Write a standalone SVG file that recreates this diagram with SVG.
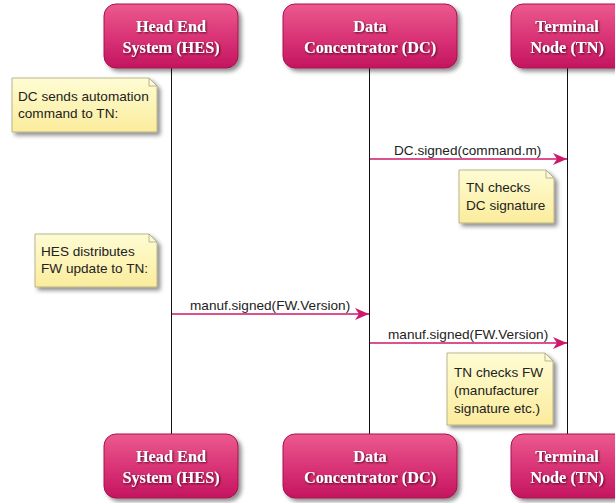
<svg xmlns="http://www.w3.org/2000/svg" width="615" height="503" viewBox="0 0 615 503">
  <defs>
    <linearGradient id="boxFill" x1="0" y1="0" x2="0" y2="1">
      <stop offset="0" stop-color="#ec5a8e"/>
      <stop offset="0.5" stop-color="#da3577"/>
      <stop offset="1" stop-color="#c41560"/>
    </linearGradient>
    <linearGradient id="noteFill" x1="0" y1="0" x2="0" y2="1">
      <stop offset="0" stop-color="#fefcd4"/>
      <stop offset="1" stop-color="#fbec9c"/>
    </linearGradient>
    <filter id="shadow" x="-10%" y="-10%" width="125%" height="130%">
      <feDropShadow dx="3" dy="3" stdDeviation="2" flood-color="#000" flood-opacity="0.45"/>
    </filter>
    <filter id="textShadow" x="-10%" y="-30%" width="120%" height="160%">
      <feDropShadow dx="1" dy="1" stdDeviation="0.8" flood-color="#3a0018" flood-opacity="0.85"/>
    </filter>
    <marker id="arrow" viewBox="0 0 14 12" refX="14" refY="6" markerWidth="14" markerHeight="12" markerUnits="userSpaceOnUse" orient="auto">
      <path d="M0,0 L14,6 L0,12 L4,6 Z" fill="#d0186a"/>
    </marker>
    <style>
      .box { fill: url(#boxFill); stroke: #a8104e; stroke-width: 1; filter: url(#shadow); }
      .head { font-family: "Liberation Serif", "Times New Roman", serif; font-weight: bold; font-size: 16.3px; fill: #fff; text-anchor: middle; filter: url(#textShadow); }
      .life { stroke: #111; stroke-width: 1; fill: none; }
      .note { fill: url(#noteFill); stroke: #a8a47a; stroke-width: 0.8; filter: url(#shadow); }
      .fold { fill: #fdf8d8; stroke: #a8a47a; stroke-width: 0.8; }
      .ntext { font-family: "Liberation Sans", Arial, sans-serif; font-size: 13.6px; fill: #222; }
      .msg { stroke: #d0186a; stroke-width: 1.5; fill: none; marker-end: url(#arrow); }
      .mtext { font-family: "Liberation Sans", Arial, sans-serif; font-size: 13.6px; fill: #222; }
    </style>
  </defs>

  <rect width="615" height="503" fill="#fff"/>

  <!-- lifelines -->
  <g id="lifelines">
    <line class="life" x1="171.5" y1="68" x2="171.5" y2="434"/>
    <line class="life" x1="369.5" y1="68" x2="369.5" y2="434" stroke="#555"/>
    <line class="life" x1="567.5" y1="68" x2="567.5" y2="434"/>
  </g>

  <!-- participants, top -->
  <g id="hes-top">
    <rect class="box" x="104" y="4" width="134" height="64" rx="12"/>
    <text class="head" x="171" y="32">Head End</text>
    <text class="head" x="171" y="53">System (HES)</text>
  </g>
  <g id="dc-top">
    <rect class="box" x="283" y="4" width="174" height="64" rx="12"/>
    <text class="head" x="370" y="32">Data</text>
    <text class="head" x="370" y="53">Concentrator (DC)</text>
  </g>
  <g id="tn-top">
    <rect class="box" x="511" y="4" width="116" height="64" rx="12"/>
    <text class="head" x="567" y="32">Terminal</text>
    <text class="head" x="567" y="53">Node (TN)</text>
  </g>

  <!-- participants, bottom -->
  <g id="hes-bottom">
    <rect class="box" x="104" y="434" width="134" height="64" rx="12"/>
    <text class="head" x="171" y="462">Head End</text>
    <text class="head" x="171" y="483">System (HES)</text>
  </g>
  <g id="dc-bottom">
    <rect class="box" x="283" y="434" width="174" height="64" rx="12"/>
    <text class="head" x="370" y="462">Data</text>
    <text class="head" x="370" y="483">Concentrator (DC)</text>
  </g>
  <g id="tn-bottom">
    <rect class="box" x="511" y="434" width="116" height="64" rx="12"/>
    <text class="head" x="567" y="462">Terminal</text>
    <text class="head" x="567" y="483">Node (TN)</text>
  </g>

  <!-- notes -->
  <g id="note-automation">
    <path class="note" d="M12,78 H149 L157,86 V132 H12 Z"/>
    <path class="fold" d="M149,78 V86 H157 Z"/>
    <text class="ntext" x="18" y="101">DC sends automation</text>
    <text class="ntext" x="18" y="118">command to TN:</text>
  </g>
  <g id="note-dc-signature">
    <path class="note" d="M459,170 H546 L554,178 V223 H459 Z"/>
    <path class="fold" d="M546,170 V178 H554 Z"/>
    <text class="ntext" x="466" y="192">TN checks</text>
    <text class="ntext" x="466" y="210">DC signature</text>
  </g>
  <g id="note-fw-update">
    <path class="note" d="M35,234 H149 L157,242 V287 H35 Z"/>
    <path class="fold" d="M149,234 V242 H157 Z"/>
    <text class="ntext" x="41" y="256">HES distributes</text>
    <text class="ntext" x="41" y="273">FW update to TN:</text>
  </g>
  <g id="note-fw-check">
    <path class="note" d="M447,353 H545 L553,361 V425 H447 Z"/>
    <path class="fold" d="M545,353 V361 H553 Z"/>
    <text class="ntext" x="454" y="377">TN checks FW</text>
    <text class="ntext" x="454" y="395">(manufacturer</text>
    <text class="ntext" x="454" y="413">signature etc.)</text>
  </g>

  <!-- messages -->
  <g id="connectors">
    <line class="msg" x1="370" y1="159" x2="567" y2="159"/>
    <text class="mtext" x="394" y="155">DC.signed(command.m)</text>
    <line class="msg" x1="172" y1="314" x2="369" y2="314"/>
    <text class="mtext" x="190" y="310">manuf.signed(FW.Version)</text>
    <line class="msg" x1="370" y1="343" x2="567" y2="343"/>
    <text class="mtext" x="388" y="339">manuf.signed(FW.Version)</text>
  </g>
</svg>
